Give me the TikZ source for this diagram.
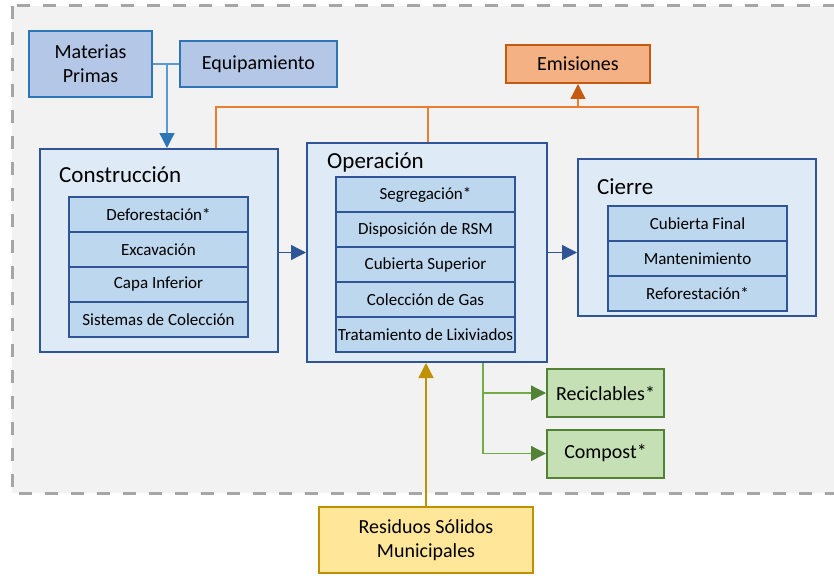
\documentclass[tikz,border=0pt]{standalone}
\usepackage{fontspec}
\setmainfont{Carlito}
\usetikzlibrary{positioning,arrows.meta}

\definecolor{bgGray}{HTML}{F2F2F2}
\definecolor{dashGray}{HTML}{A6A6A6}
\definecolor{inBlue}{HTML}{B4C7E7}
\definecolor{inBlueLine}{HTML}{2E75B6}
\definecolor{inBlueArr}{HTML}{5B9BD5}
\definecolor{stFill}{HTML}{DEEBF7}
\definecolor{stLine}{HTML}{2F5597}
\definecolor{itFill}{HTML}{BDD7EE}
\definecolor{emFill}{HTML}{F4B183}
\definecolor{emLine}{HTML}{C55A11}
\definecolor{emArr}{HTML}{ED7D31}
\definecolor{gnFill}{HTML}{C5E0B4}
\definecolor{gnLine}{HTML}{548235}
\definecolor{gnArr}{HTML}{70AD47}
\definecolor{ywFill}{HTML}{FFE699}
\definecolor{ywLine}{HTML}{BF9000}

\begin{document}
\begin{tikzpicture}[
    x=1pt, y=-1pt,
    every node/.style={font=\fontsize{20}{24}\selectfont},
    box/.style={rectangle, draw, line width=2pt, inner sep=0pt, align=center},
    stage/.style={rectangle, draw=stLine, fill=stFill, line width=2pt, inner sep=0pt},
    item/.style={rectangle, draw=stLine, fill=itFill, line width=2pt, inner sep=0pt,
                 outer sep=0pt, minimum width=179pt, minimum height=35pt,
                 font=\fontsize{17}{20}\selectfont},
    ttl/.style={anchor=west, inner sep=0pt, font=\fontsize{23}{27}\selectfont},
    arr/.style={-{Triangle[length=15pt,width=15pt]}, line width=1.3pt},
    node distance=0pt,
]
    \useasboundingbox (0,0) rectangle (834,575);
    \clip (0,0) rectangle (834,575);
    % frame
    \draw[dashGray, fill=bgGray, line width=3pt, dash pattern=on 13pt off 13pt]
        (12,6) rectangle (860,493);

    % inputs
    \node[box, draw=inBlueLine, fill=inBlue, minimum width=123pt, minimum height=66pt] (mat)
        at (90.5,64) {Materias\\Primas};
    \node[box, draw=inBlueLine, fill=inBlue, minimum width=157pt, minimum height=46pt] (equ)
        at (258.5,64) {Equipamiento};
    \node[box, draw=emLine, fill=emFill, minimum width=144pt, minimum height=38pt] (emi)
        at (578,64) {Emisiones};

    % stages
    \node[stage, minimum width=238pt, minimum height=203pt] (con) at (159,250.5) {};
    \node[stage, minimum width=240pt, minimum height=219pt] (ope) at (427,252.5) {};
    \node[stage, minimum width=238pt, minimum height=157pt] (cie) at (697,237.5) {};
    \node[ttl] (conT) at (59,175) {Construcción};
    \node[ttl] (opeT) at (327,162) {Operación};
    \node[ttl] (cieT) at (597,187) {Cierre};

    % construccion items
    \node[item] (c1) at (158.5,214.5) {Deforestación*};
    \node[item, below=of c1] (c2) {Excavación};
    \node[item, below=of c2] (c3) {Capa Inferior};
    \node[item, below=of c3] (c4) {Sistemas de Colección};

    % operacion items
    \node[item] (o1) at (425.5,194.5) {Segregación*};
    \node[item, below=of o1] (o2) {Disposición de RSM};
    \node[item, below=of o2] (o3) {Cubierta Superior};
    \node[item, below=of o3] (o4) {Colección de Gas};
    \node[item, below=of o4] (o5) {Tratamiento de Lixiviados};

    % cierre items
    \node[item] (k1) at (697.5,223.5) {Cubierta Final};
    \node[item, below=of k1] (k2) {Mantenimiento};
    \node[item, below=of k2] (k3) {Reforestación*};

    % outputs
    \node[box, draw=gnLine, fill=gnFill, minimum width=117pt, minimum height=48pt] (rec)
        at (605.5,393) {Reciclables*};
    \node[box, draw=gnLine, fill=gnFill, minimum width=117pt, minimum height=48pt] (com)
        at (605.5,453.5) {Compost*};
    \node[box, draw=ywLine, fill=ywFill, minimum width=214pt, minimum height=66pt] (res)
        at (426,540) {Residuos Sólidos\\Municipales};

    % connectors
    \coordinate (jn) at (167,64);
    \draw[inBlueArr, line width=1.3pt] (mat.east) -- (equ.west);
    \draw[arr, inBlueArr, -{Triangle[length=15pt,width=15pt,color=inBlueLine]}]
        (jn) -- (jn |- con.north);

    \coordinate (e1) at (216,107);
    \coordinate (e2) at (428,107);
    \coordinate (e3) at (698,107);
    \draw[emArr, line width=1.3pt] (e1 |- con.north) -- (e1) -- (e3) -- (e3 |- cie.north);
    \draw[emArr, line width=1.3pt] (e2 |- ope.north) -- (e2);
    \draw[arr, emArr, -{Triangle[length=15pt,width=15pt,color=emLine]}]
        (emi.south |- e1) -- (emi.south);

    \draw[arr, stLine] (con.east |- ope.west) -- (ope.west);
    \draw[arr, stLine] (ope.east) -- (ope.east -| cie.west);

    \coordinate (g1) at (483,0);
    \draw[arr, gnArr, -{Triangle[length=15pt,width=15pt,color=gnLine]}]
        (g1 |- ope.south) |- (com.west);
    \draw[arr, gnArr, -{Triangle[length=15pt,width=15pt,color=gnLine]}]
        (g1 |- rec.west) -- (rec.west);

    \draw[arr, ywLine] (res.north) -- (res.north |- ope.south);
\end{tikzpicture}
\end{document}
